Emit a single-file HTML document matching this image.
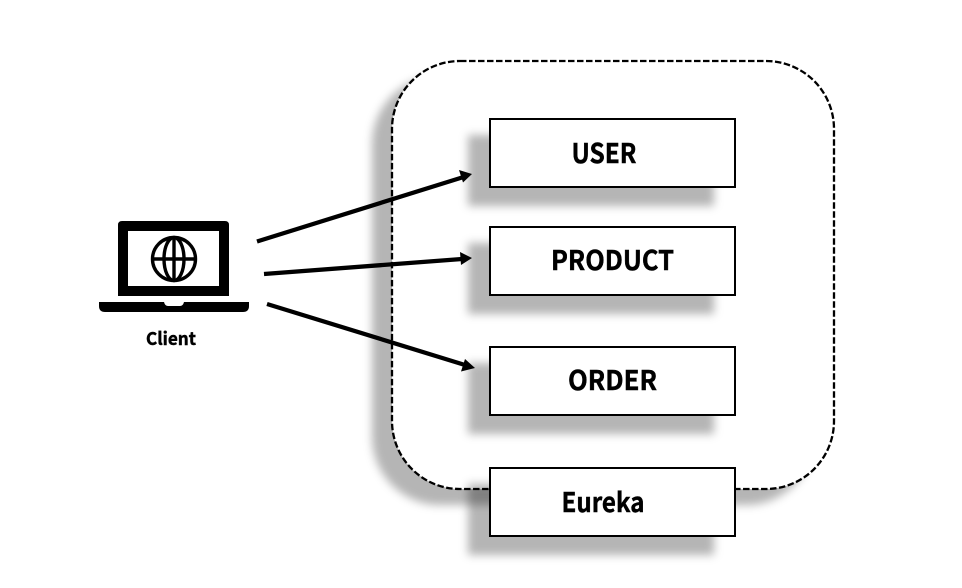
<!DOCTYPE html>
<html><head><meta charset="utf-8"><style>
html,body{margin:0;padding:0;background:#fff}
svg{display:block}
text{font-family:"Noto Sans CJK JP","Liberation Sans",sans-serif;font-weight:700;fill:#000;stroke:#000;stroke-width:.45;text-anchor:middle}
</style></head><body>
<svg width="962" height="588" viewBox="0 0 962 588" xmlns="http://www.w3.org/2000/svg">
<defs>
<filter id="b" x="-20%" y="-30%" width="140%" height="160%"><feGaussianBlur stdDeviation="4.500"/></filter>
<filter id="c" x="-10%" y="-10%" width="120%" height="120%"><feGaussianBlur stdDeviation="4.500"/></filter>
</defs>
<rect width="962" height="588" fill="#fff"/>
<rect x="372" y="76" width="442" height="429" rx="68" fill="#000" fill-opacity=".29" filter="url(#c)"/>
<rect x="392" y="61" width="442" height="428" rx="68" fill="#fff"/>
<rect x="392" y="61" width="442" height="428" rx="68" fill="none" stroke="#000" stroke-width="2.300" stroke-dasharray="6.500 2.500"/>
<g fill="#000" fill-opacity=".29">
<rect x="468" y="135" width="246" height="71" filter="url(#b)"/>
<rect x="468" y="243" width="246" height="71" filter="url(#b)"/>
<rect x="468" y="363" width="246" height="71" filter="url(#b)"/>
<rect x="468" y="484" width="246" height="71" filter="url(#b)"/>
</g>
<g fill="#fff" stroke="#000" stroke-width="2">
<rect x="490" y="119" width="245" height="68"/>
<rect x="490" y="227" width="245" height="68"/>
<rect x="490" y="347" width="245" height="68"/>
<rect x="490" y="468" width="245" height="68"/>
</g>
<text x="604" y="163" font-size="27" textLength="65" lengthAdjust="spacingAndGlyphs">USER</text>
<text x="612.500" y="270" font-size="27" textLength="123" lengthAdjust="spacingAndGlyphs">PRODUCT</text>
<text x="612.500" y="390" font-size="27" textLength="89" lengthAdjust="spacingAndGlyphs">ORDER</text>
<text x="603" y="512" font-size="27" textLength="83" lengthAdjust="spacingAndGlyphs">Eureka</text>
<g stroke="#000" stroke-width="4.300" fill="none">
<line x1="257" y1="241.500" x2="462" y2="177.500"/>
<line x1="264" y1="274" x2="462" y2="259"/>
<line x1="267" y1="304" x2="465" y2="365"/>
</g>
<g fill="#000">
<polygon points="472,174 459,170 463,182.500"/>
<polygon points="472,258 460,252 461,265"/>
<polygon points="475,368 465,359 461,371.500"/>
</g>
<path fill-rule="evenodd" fill="#000" d="M122 221H225Q229 221 229 225V296H118V225Q118 221 122 221ZM128 231V286H219V231Z"/>
<path fill="#000" d="M99 302H164Q165 306 168 306H180Q183 306 184 302H249V306Q249 312 243 312H105Q99 312 99 306Z"/>
<g fill="none" stroke="#000" stroke-width="3.400">
<circle cx="174" cy="259" r="21.500"/>
<ellipse cx="174" cy="259" rx="10" ry="21.500"/>
<line x1="174" y1="237.500" x2="174" y2="280.500"/>
<line x1="152.500" y1="259" x2="195.500" y2="259"/>
</g>
<text x="171" y="345" font-size="17.500" textLength="50" lengthAdjust="spacingAndGlyphs">Client</text>
</svg>
</body></html>
